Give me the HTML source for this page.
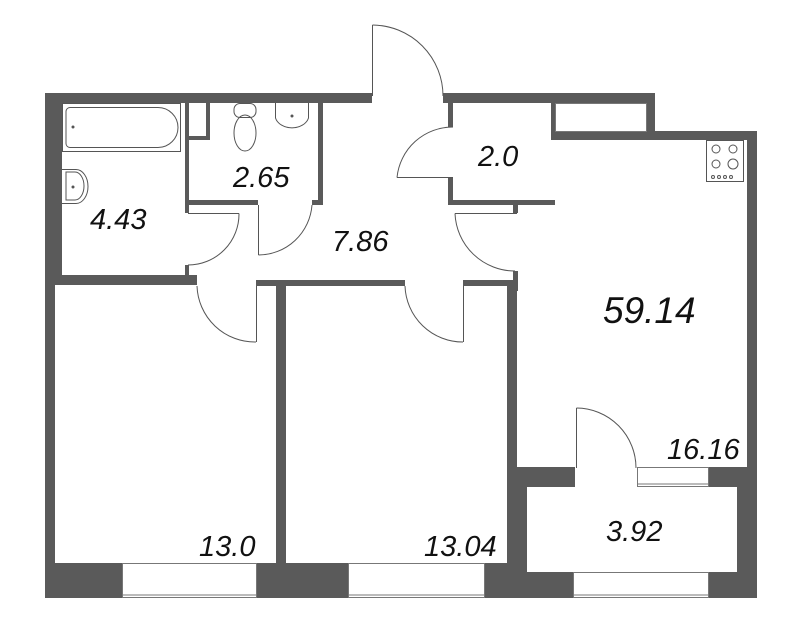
<!DOCTYPE html>
<html><head><meta charset="utf-8"><style>
html,body{margin:0;padding:0;background:#fff;width:800px;height:638px;overflow:hidden}
svg{display:block}
text{font-family:"Liberation Sans",sans-serif;font-style:italic;fill:#111}
</style></head><body>
<svg width="800" height="638" viewBox="0 0 800 638" xmlns="http://www.w3.org/2000/svg">
<g fill="#5a5a5a">
<rect x="45" y="93" width="327" height="10"/>
<rect x="443" y="93" width="212" height="10"/>
<rect x="647" y="93" width="8" height="40"/>
<rect x="551" y="131" width="206" height="9"/>
<rect x="45" y="93" width="17" height="192"/>
<rect x="45" y="275" width="10" height="323"/>
<rect x="45" y="275" width="152" height="10"/>
<rect x="185" y="103" width="4" height="110"/>
<rect x="185" y="265" width="4" height="20"/>
<rect x="206" y="103" width="4" height="37"/>
<rect x="189" y="136" width="21" height="4"/>
<rect x="318" y="103" width="5" height="102"/>
<rect x="189" y="200" width="69" height="5"/>
<rect x="312" y="200" width="11" height="5"/>
<rect x="448" y="103" width="5" height="24"/>
<rect x="448" y="178" width="5" height="27"/>
<rect x="448" y="200" width="107" height="5"/>
<rect x="551" y="103" width="4" height="37"/>
<rect x="513" y="205" width="5" height="8"/>
<rect x="256" y="280" width="149" height="6"/>
<rect x="463" y="280" width="55" height="6"/>
<rect x="276" y="280" width="10" height="318"/>
<rect x="513" y="271" width="5" height="20"/>
<rect x="508" y="280" width="9" height="207"/>
<rect x="747" y="131" width="10" height="340"/>
<rect x="737" y="467" width="20" height="131"/>
<rect x="508" y="467" width="67" height="20"/>
<rect x="709" y="467" width="48" height="20"/>
<rect x="508" y="467" width="19" height="131"/>
<rect x="507" y="286" width="6" height="280"/>
<rect x="45" y="563" width="77" height="35"/>
<rect x="257" y="563" width="91" height="35"/>
<rect x="485" y="563" width="42" height="35"/>
<rect x="527" y="572" width="46" height="26"/>
<rect x="709" y="572" width="48" height="26"/>
</g>
<g fill="none" stroke="#777" stroke-width="1">
<rect x="122.5" y="563.5" width="134" height="34"/>
<line x1="122" y1="595" x2="257" y2="595"/>
<rect x="348.5" y="563.5" width="136" height="34"/>
<line x1="348" y1="595" x2="485" y2="595"/>
<rect x="573.5" y="572.5" width="135" height="25"/>
<line x1="573" y1="595" x2="709" y2="595"/>
<rect x="637.5" y="467.5" width="71" height="19"/>
<line x1="637" y1="484" x2="709" y2="484"/>
<rect x="555.5" y="103.5" width="91" height="28"/>
</g>
<g fill="none" stroke="#555" stroke-width="1">
<line x1="372.5" y1="96" x2="372.5" y2="25"/>
<path d="M372.5 25 A71 71 0 0 1 443 96"/>
<line x1="188" y1="213.5" x2="239" y2="213.5"/>
<path d="M239 213.5 A51 51 0 0 1 188 265"/>
<line x1="258.5" y1="205" x2="258.5" y2="255"/>
<path d="M258.5 255 A54 54 0 0 0 312 205"/>
<line x1="397" y1="177.5" x2="453" y2="177.5"/>
<path d="M397 177.5 A56 56 0 0 1 453 127"/>
<line x1="455" y1="213.5" x2="517" y2="213.5"/>
<path d="M455 213.5 A60 60 0 0 0 515 271"/>
<line x1="256.5" y1="286" x2="256.5" y2="342"/>
<path d="M197 286 A58 58 0 0 0 256 342"/>
<line x1="463.5" y1="286" x2="463.5" y2="342"/>
<path d="M405 286 A58 58 0 0 0 463 342"/>
<line x1="576.5" y1="408" x2="576.5" y2="468"/>
<path d="M576.5 408 A60 60 0 0 1 636 468"/>
<rect x="62.5" y="103.5" width="118" height="48"/>
<path d="M70 107.5 H158 A20 20 0 0 1 158 147.5 H70 A4 4 0 0 1 66 143.5 V111.5 A4 4 0 0 1 70 107.5 Z"/>
<path d="M62 169.5 H76 A12 17 0 0 1 76 203.5 H62"/>
<path d="M66 172 H75 A9 14 0 0 1 75 200 H66 Z"/>
<rect x="234" y="103.5" width="22" height="14" rx="6"/>
<ellipse cx="245" cy="133" rx="11" ry="18"/>
<path d="M275.5 103 V118 A17 13 0 0 0 308.5 118 V103"/>
<rect x="706.5" y="140.5" width="37" height="41"/>
<circle cx="716" cy="149" r="4"/><circle cx="733" cy="149" r="4"/>
<circle cx="716" cy="164" r="4"/><circle cx="733" cy="164" r="5"/>
<circle cx="713" cy="177" r="1.5"/><circle cx="719" cy="177" r="1.5"/><circle cx="725" cy="177" r="1.5"/><circle cx="731" cy="177" r="1.5"/>
</g>
<g fill="#555"><circle cx="73" cy="127" r="1.5"/><circle cx="73" cy="187" r="1.5"/><circle cx="292" cy="116" r="1.5"/></g>
<text x="90" y="229" font-size="29">4.43</text>
<text x="233" y="187" font-size="29">2.65</text>
<text x="332" y="251" font-size="29">7.86</text>
<text x="478" y="166" font-size="29">2.0</text>
<text x="603" y="323" font-size="37">59.14</text>
<text x="667" y="459" font-size="29">16.16</text>
<text x="199" y="556" font-size="29">13.0</text>
<text x="424" y="556" font-size="29">13.04</text>
<text x="606" y="541" font-size="29">3.92</text>
</svg>
</body></html>
